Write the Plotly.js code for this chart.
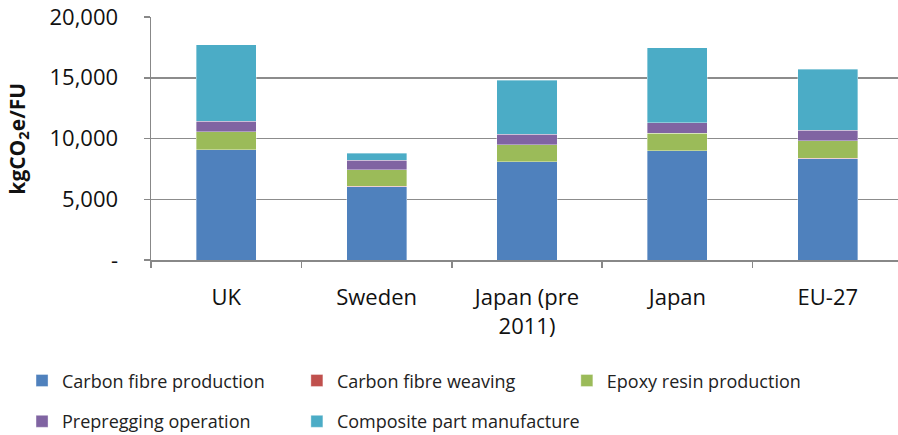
<!DOCTYPE html>
<html><head><meta charset="utf-8">
<script src="https://cdn.plot.ly/plotly-3.0.1.min.js"></script>
<style>html,body{margin:0;padding:0;overflow:hidden;background:#fff}</style>
</head><body>
<div id="chart"></div>
<script>
const categories = ["UK", "Sweden", "Japan (pre<br>2011)", "Japan", "EU-27"];
const carbonFibreProduction = [9060, 6045, 8070, 8980, 8350];
const carbonFibreWeaving = [30, 30, 30, 30, 30];
const epoxyResinProduction = [1455, 1340, 1405, 1425, 1420];
const prepreggingOperation = [855, 775, 850, 850, 885];
const compositePartManufacture = [6310, 600, 4445, 6175, 5000];
const yTickValues = [0, 5000, 10000, 15000, 20000];
const yTickLabels = ["-", "5,000", "10,000", "15,000", "20,000"];
const yTitle = "<b>kgCO<sub>2</sub>e/FU</b>";

const seriesNames = ["Carbon fibre production", "Carbon fibre weaving", "Epoxy resin production", "Prepregging operation", "Composite part manufacture"];
const seriesValues = [carbonFibreProduction, carbonFibreWeaving, epoxyResinProduction, prepreggingOperation, compositePartManufacture];
const colors = ["#4F81BD", "#C0504D", "#9BBB59", "#8064A2", "#4BACC6"];
const legendIds = ["legend", "legend2", "legend3", "legend4", "legend5"];
const legendX = [-0.1715, 0.194, 0.553, -0.1715, 0.194];
const legendY = [-0.497, -0.497, -0.497, -0.665, -0.665];

const FONT = "Open Sans, sans-serif";
const traces = seriesNames.map((n, i) => ({
  type: "bar", name: n, x: categories, y: seriesValues[i],
  marker: {color: colors[i], line: {color: "rgba(255,255,255,0.45)", width: 0.8}},
  legend: legendIds[i], hoverinfo: "skip"
}));

const layout = {
  width: 903, height: 435,
  margin: {l: 151, r: 0, t: 17, b: 175, autoexpand: false},
  paper_bgcolor: "#fff", plot_bgcolor: "#fff",
  barmode: "stack", bargap: 0.6,
  showlegend: true,
  xaxis: {
    type: "category", showline: true, linecolor: "#888", linewidth: 1.5,
    ticks: "outside", tickson: "boundaries", ticklen: 6, tickcolor: "#888", tickwidth: 1.5,
    tickfont: {family: FONT, size: 22, color: "#111"}, ticklabelstandoff: 17,
    showgrid: false, fixedrange: true
  },
  yaxis: {
    range: [0, 20000], tickvals: yTickValues, ticktext: yTickLabels,
    showline: true, linecolor: "#888", linewidth: 1.5,
    ticks: "outside", ticklen: 6, tickcolor: "#888", tickwidth: 1.5,
    showgrid: true, gridcolor: "#8c8c8c", gridwidth: 1.5, zeroline: false,
    tickfont: {family: FONT, size: 22, color: "#111"}, ticklabelstandoff: 21,
    automargin: false, fixedrange: true
  },
  annotations: [{
    text: yTitle, xref: "paper", yref: "paper", x: -0.178, y: 0.5,
    xanchor: "center", yanchor: "middle", textangle: -90, showarrow: false,
    font: {family: FONT, size: 21, color: "#111"}
  }]
};
legendIds.forEach((id, i) => {
  layout[id] = {
    orientation: "h", xanchor: "left", yanchor: "middle",
    x: legendX[i], y: legendY[i],
    font: {family: FONT, size: 18, color: "#222"},
    bgcolor: "rgba(0,0,0,0)"
  };
});

Plotly.newPlot("chart", traces, layout, {displayModeBar: false, staticPlot: true});
</script>
</body></html>
